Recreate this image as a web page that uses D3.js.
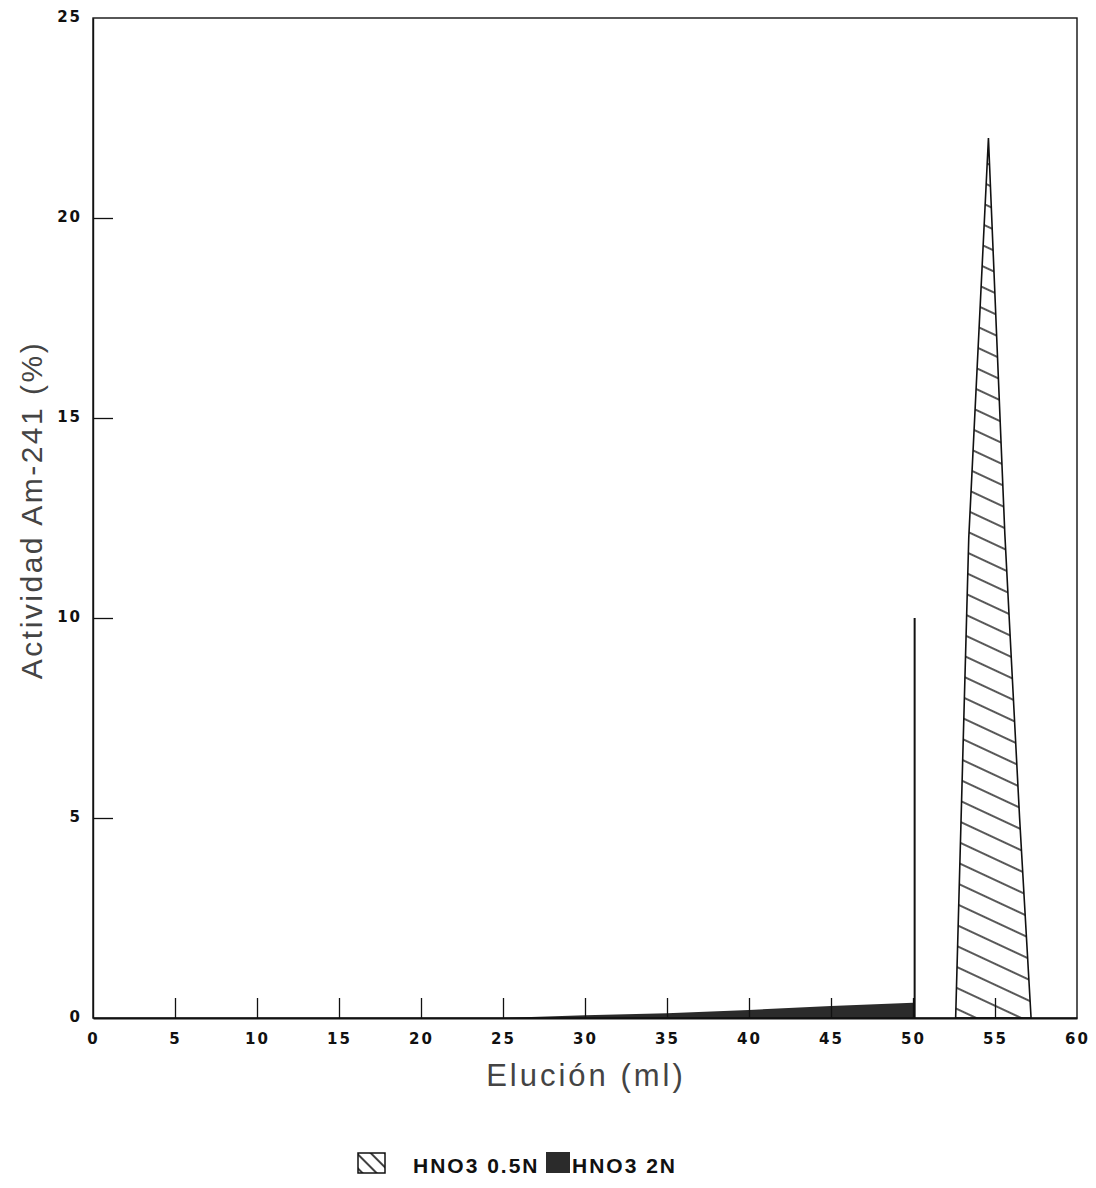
<!DOCTYPE html>
<html>
<head>
<meta charset="utf-8">
<script src="https://cdn.jsdelivr.net/npm/d3@7"></script>
<style>
  body { margin: 0; background: #fff; }
</style>
</head>
<body>
<svg width="1096" height="1188"></svg>
<script>
// datos
var xTicks = [0, 5, 10, 15, 20, 25, 30, 35, 40, 45, 50, 55, 60];
var yTicks = [0, 5, 10, 15, 20, 25];

// HNO3 2N (relleno oscuro)
var n2X = [25, 30, 35, 40, 45, 50, 50];
var n2Y = [0, 0.07, 0.12, 0.2, 0.3, 0.38, 0];
// linea vertical en 50 ml
var spikeX = [50.1, 50.1];
var spikeY = [0, 10];

// HNO3 0.5N (rayado)
var n05X = [52.6, 53.4, 54.6, 55.6, 56.5, 57.2];
var n05Y = [0, 12, 22, 12.1, 5, 0];

var legendNames = ["HNO3 0.5N", "HNO3 2N"];

function draw(){
    var svg = d3.select("svg"),
        margin = {top: 18, right: 19, bottom: 170, left: 93},
        width = +svg.attr("width") - margin.left - margin.right,
        height = +svg.attr("height") - margin.top - margin.bottom,
        g = svg.append("g").attr("transform", "translate(" + margin.left + "," + margin.top + ")");

    var defs = svg.append("defs");
    var hatch = defs.append("pattern")
        .attr("id", "hatch")
        .attr("patternUnits", "userSpaceOnUse")
        .attr("width", 10).attr("height", 19)
        .attr("patternTransform", "rotate(25)");
    hatch.append("rect").attr("width", 10).attr("height", 19).attr("fill", "#fff");
    hatch.append("line").attr("x1", 0).attr("x2", 10).attr("y1", 1).attr("y2", 1)
        .attr("stroke", "#111").attr("stroke-width", 1.4);

    var hatch2 = defs.append("pattern")
        .attr("id", "hatch2")
        .attr("patternUnits", "userSpaceOnUse")
        .attr("width", 10).attr("height", 10)
        .attr("patternTransform", "rotate(45)");
    hatch2.append("rect").attr("width", 10).attr("height", 10).attr("fill", "#fff");
    hatch2.append("line").attr("x1", 0).attr("x2", 10).attr("y1", 1).attr("y2", 1)
        .attr("stroke", "#111").attr("stroke-width", 1.6);

    var x = d3.scaleLinear().domain([0, 60]).range([0, width]);
    var y = d3.scaleLinear().domain([0, 25]).range([height, 0]);

    // areas
    var area = d3.area()
        .x(function(d) { return x(d[0]); })
        .y0(y(0))
        .y1(function(d) { return y(d[1]); });

    g.append("path")
        .datum(d3.zip(n2X, n2Y))
        .attr("d", area)
        .attr("fill", "#2b2b2b");

    g.append("path")
        .datum(d3.zip(spikeX, spikeY))
        .attr("d", d3.line().x(function(d) { return x(d[0]); }).y(function(d) { return y(d[1]); }))
        .attr("stroke", "#111").attr("stroke-width", 2).attr("fill", "none");

    g.append("path")
        .datum(d3.zip(n05X, n05Y))
        .attr("d", area)
        .attr("fill", "url(#hatch)")
        .attr("stroke", "#111").attr("stroke-width", 1.6)
        .attr("stroke-linejoin", "miter");

    // marco
    g.append("rect")
        .attr("width", width).attr("height", height)
        .attr("fill", "none").attr("stroke", "#111").attr("stroke-width", 1.4);

    function tickFont(sel) {
        sel.selectAll(".tick text")
            .style("font-family", "'DejaVu Sans', Arial, sans-serif")
            .style("font-weight", "bold").style("font-size", "15px")
            .style("letter-spacing", "2px").attr("fill", "#111");
    }

    // ejes
    g.append("g")
        .attr("class", "axis axis--x")
        .attr("transform", "translate(0," + height + ")")
        .call(d3.axisBottom(x).tickValues(xTicks).tickSize(-20).tickPadding(15).tickSizeOuter(0))
        .call(function(a) {
            a.select(".domain").attr("stroke", "#111").attr("stroke-width", 2.2);
            a.selectAll(".tick line").attr("stroke", "#111").attr("stroke-width", 1.3)
                .filter(function(d) { return d === 0 || d === 60; }).remove();
            tickFont(a);
        });

    g.append("g")
        .attr("class", "axis axis--y")
        .call(d3.axisLeft(y).tickValues(yTicks).tickSize(-20).tickPadding(11).tickSizeOuter(0))
        .call(function(a) {
            a.select(".domain").attr("stroke", "#111").attr("stroke-width", 1.4);
            a.selectAll(".tick line").attr("stroke", "#111").attr("stroke-width", 1.3)
                .filter(function(d) { return d === 0 || d === 25; }).remove();
            tickFont(a);
            a.selectAll(".tick text").attr("dy", "0.2em");
        });

    // titulos
    svg.append("text")
        .attr("transform", "translate(42,510) rotate(-90)")
        .attr("text-anchor", "middle")
        .style("font-family", "'Liberation Sans', Arial, sans-serif")
        .style("font-size", "30px").style("letter-spacing", "2.5px").attr("fill", "#444")
        .text("Actividad Am-241 (%)");

    svg.append("text")
        .attr("x", 586).attr("y", 1086)
        .attr("text-anchor", "middle")
        .style("font-family", "'Liberation Sans', Arial, sans-serif")
        .style("font-size", "31px").attr("fill", "#444")
        .style("letter-spacing", "3px")
        .text("Elución (ml)");

    // leyenda
    var leg = svg.append("g").attr("transform", "translate(358,1153)");
    leg.append("rect").attr("width", 27).attr("height", 20)
        .attr("fill", "url(#hatch2)").attr("stroke", "#111").attr("stroke-width", 1.5);
    leg.append("text").attr("x", 55).attr("y", 20)
        .style("font-family", "'Liberation Sans', Arial, sans-serif")
        .style("font-weight", "bold").style("font-size", "21px").style("letter-spacing", "2px")
        .attr("fill", "#111").text(legendNames[0]);
    leg.append("rect").attr("x", 188).attr("y", -1).attr("width", 24).attr("height", 21)
        .attr("fill", "#2b2b2b");
    leg.append("text").attr("x", 214).attr("y", 20)
        .style("font-family", "'Liberation Sans', Arial, sans-serif")
        .style("font-weight", "bold").style("font-size", "21px").style("letter-spacing", "2px")
        .attr("fill", "#111").text(legendNames[1]);
}

draw();
</script>
</body>
</html>
